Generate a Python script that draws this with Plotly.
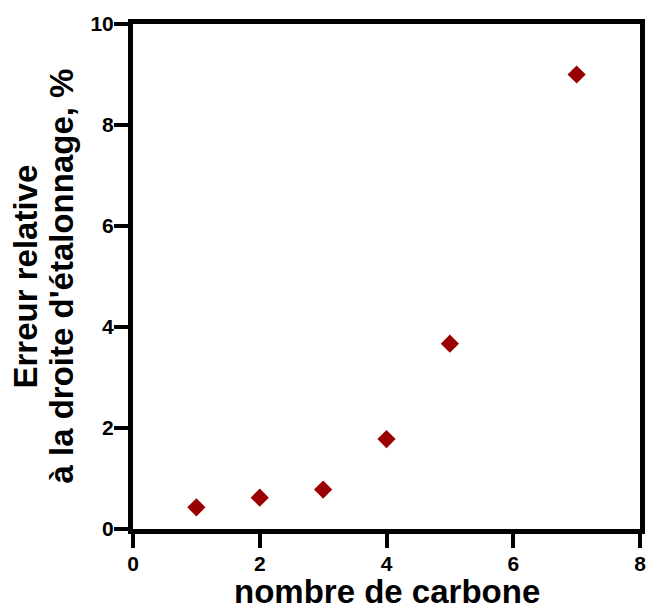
import plotly.graph_objects as go

carbon = [1, 2, 3, 4, 5, 7]
rel_error = [0.43, 0.62, 0.78, 1.78, 3.67, 9.0]

x_title = "nombre de carbone"
y_title_lines = ["Erreur relative", "à la droite d'étalonnage, %"]

FONT = "Liberation Sans, Arial, sans-serif"
W, H = 648, 606
L, R, T, B = 133, 8, 24, 77

fig = go.Figure()
fig.add_trace(go.Scatter(
    x=carbon, y=rel_error, mode="markers",
    marker=dict(symbol="diamond", size=14, color="#9B0000", line=dict(width=0)),
    showlegend=False,
))

axis_common = dict(
    showline=True, linewidth=5, linecolor="black", mirror=True,
    ticks="outside", ticklen=14, tickwidth=4, tickcolor="black",
    showgrid=False, zeroline=False, automargin=False,
    ticklabeloverflow="allow",
    tickfont=dict(family=FONT, size=21, color="black", weight="bold"),
)

title_font = dict(family=FONT, size=33, color="black", weight="bold")

fig.update_layout(
    width=W, height=H,
    margin=dict(l=L, r=R, t=T, b=B),
    plot_bgcolor="white", paper_bgcolor="white",
    xaxis=dict(range=[0, 8], tickvals=[0, 2, 4, 6, 8], ticklabelstandoff=-2, **axis_common),
    yaxis=dict(range=[0, 10], tickvals=[0, 2, 4, 6, 8, 10], ticklabelstandoff=-4, **axis_common),
)

# x-axis title
fig.add_annotation(text=x_title, xref="paper", yref="paper", x=0.5, y=0,
                   xanchor="center", yanchor="middle", yshift=-(591 - (H - B)),
                   showarrow=False, font=title_font)
# y-axis title (two lines, tight spacing)
for txt, cx in zip(y_title_lines, [25, 61]):
    fig.add_annotation(text=txt, xref="paper", yref="paper", x=0, y=0.5,
                       xanchor="center", yanchor="middle", xshift=cx - L,
                       textangle=-90, showarrow=False, font=title_font)

fig.write_html(
    "out.html",
    config={"displayModeBar": False},
    post_script="document.body.style.margin='0';document.body.style.overflow='hidden';",
)
